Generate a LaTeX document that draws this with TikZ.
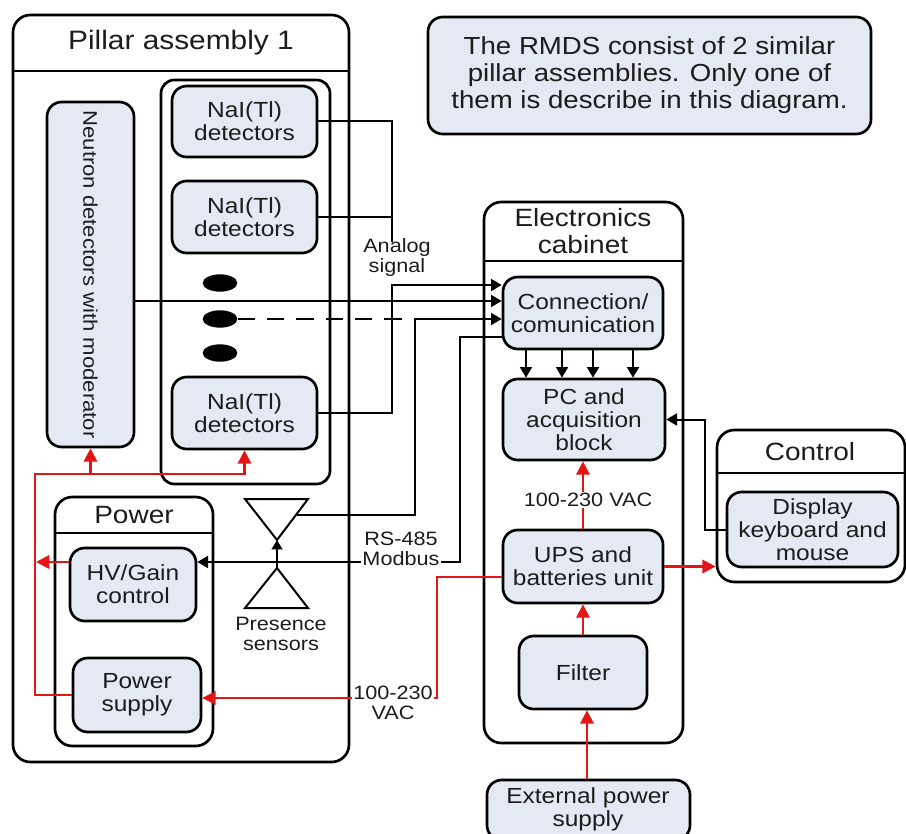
\documentclass[tikz,border=0pt]{standalone}
\usepackage{fontspec}
\setmainfont{Liberation Sans}[FakeStretch=1.12]
\usetikzlibrary{fit,arrows.meta,shapes.geometric}
\definecolor{boxfill}{RGB}{228,233,243}
\definecolor{pwrred}{RGB}{226,22,22}
\definecolor{ink}{RGB}{28,28,28}

\tikzset{
  grp/.style={draw=black, line width=2pt, rounded corners=13pt, inner sep=0pt},
  divider/.style={draw=black, line width=2pt},
  blk/.style={draw=black, line width=2pt, fill=boxfill, rounded corners=11pt, inner sep=0pt},
  blktxt/.style={align=center, text=ink, inner sep=0pt, font=\fontsize{16.4}{17.2}\selectfont},
  hdr/.style={align=center, text=ink, font=\fontsize{18.75}{20}\selectfont},
  lbl/.style={align=center, text=ink, font=\fontsize{14.5}{15}\selectfont},
  whitebg/.style={fill=white, inner sep=1pt},
  bigdot/.style={ellipse, fill=black, draw=none, inner sep=0pt,
    minimum width=26pt, minimum height=13pt},
  wire/.style={draw=black, line width=1.5pt},
  sig/.style={wire, -{Triangle[length=8pt,width=9pt]}},
  pwr/.style={draw=pwrred, line width=1.8pt},
  pwrarrow/.style={pwr, -{Triangle[length=10pt,width=10pt]}},
}

\begin{document}
\begin{tikzpicture}[x=0.75pt,y=-0.75pt]
\useasboundingbox (0,0) rectangle (906,834);

% ---------------- Pillar assembly ----------------
\node[grp, fit={(13,15)(349,762)}] (pillar) {};
\draw[divider] (pillar.west |- 0,71) -- (pillar.east |- 0,71);
\node[hdr, font=\fontsize{20}{20}\selectfont] (pillarT) at (181,43) {Pillar assembly 1};

\node[grp, rounded corners=10pt, fit={(161,80)(330,484)}] (naigrp) {};
\node[blk, fit={(172,86)(317,157)}] (nai1) {};
\node[blktxt] (nai1T) at (nai1.center) {NaI(Tl)\\detectors};
\node[blk, fit={(172,181)(317,253)}] (nai2) {};
\node[blktxt] (nai2T) at (nai2.center) {NaI(Tl)\\detectors};
\node[blk, fit={(172,377)(317,449)}] (nai3) {};
\node[blktxt] (nai3T) at (nai3.center) {NaI(Tl)\\detectors};
\node[bigdot] (dot1) at (220,283) {};
\node[bigdot] (dot2) at (220,319) {};
\node[bigdot] (dot3) at (220,353) {};

\node[blk, fit={(47,102)(134,447)}] (neut) {};
\node[rotate=-90, text=ink, inner sep=0pt, font=\fontsize{14.8}{16}\selectfont] (neutT) at (neut.center)
  {Neutron detectors with moderator};

% power group
\node[grp, fit={(55,497)(213,746)}] (powgrp) {};
\draw[divider] (powgrp.west |- 0,533) -- (powgrp.east |- 0,533);
\node[hdr] (powT) at (134,515) {Power};
\node[blk, fit={(70,548)(196,621)}] (hv) {};
\node[blktxt] (hvT) at (hv.center) {HV/Gain\\control};
\node[blk, fit={(73,658)(201,732)}] (ps) {};
\node[blktxt] (psT) at (ps.center) {Power\\supply};

% presence sensors (bow-tie symbol)
\coordinate (stl) at (245,499);
\coordinate (str) at (308,499);
\coordinate (sta) at (277,540);
\coordinate (sba) at (277,568);
\coordinate (sbl) at (245,608);
\coordinate (sbr) at (308,608);
\coordinate (sout) at (297,515);
\draw[wire, line join=miter] (stl) -- (str) -- (sta) -- cycle;
\draw[wire, line join=miter] (sba) -- (sbr) -- (sbl) -- cycle;
\node[lbl] (presT) at (281,634) {Presence\\sensors};

% ---------------- Electronics cabinet ----------------
\node[grp, fit={(484,202)(683,743)}] (cab) {};
\draw[divider] (cab.west |- 0,261) -- (cab.east |- 0,261);
\node[hdr] (cabT) at (583,231) {Electronics\\cabinet};
\node[blk, fit={(503,277)(663,349)}] (conn) {};
\node[blktxt] (connT) at (conn.center) {Connection/\\comunication};
\node[blk, fit={(503,379)(665,460)}] (pc) {};
\node[blktxt] (pcT) at (pc.center) {PC and\\acquisition\\block};
\node[blk, fit={(503,530)(663,603)}] (ups) {};
\node[blktxt] (upsT) at (ups.center) {UPS and\\batteries unit};
\node[blk, fit={(519,636)(647,709)}] (filter) {};
\node[blktxt] (filterT) at (filter.center) {Filter};
\node[blk, fit={(487,780)(690,840)}] (ext) {};
\node[blktxt] (extT) at (588,809) {External power\\supply};

% ---------------- Control ----------------
\node[grp, fit={(717,430)(905,582)}] (ctrl) {};
\draw[divider] (ctrl.west |- 0,473) -- (ctrl.east |- 0,473);
\node[hdr] (ctrlT) at (810,452) {Control};
\node[blk, fit={(727,492)(898,567)}] (disp) {};
\node[blktxt] (dispT) at (disp.center) {Display\\keyboard and\\mouse};

% ---------------- Note ----------------
\node[blk, fit={(428,17)(871,134)}] (info) {};
\node[blktxt, font=\fontsize{18.5}{20.2}\selectfont] (infoT) at (info.center)
  {The RMDS consist of 2 similar\\pillar assemblies. Only one of\\them is describe in this diagram.};

% ---------------- Signal wiring ----------------
\coordinate (bx) at (392,0);
\draw[wire] (nai1.east) -| (bx |- 0,242);
\draw[wire] (nai2.east) -- (nai2.east -| bx);
\draw[sig] (nai3.east) -| (bx |- 0,285) -- (conn.west |- 0,285);
\draw[sig] (neut.east |- 0,301) -- (conn.west |- 0,301);
\coordinate (sx) at (415,319);
\draw[wire, dash pattern=on 13pt off 9pt] (dot2.east) -- (sx);
\draw[sig] (sx) -- (conn.west |- sx);
\draw[wire] (sout) -| (sx);
\coordinate (rsx) at (460,562);
\draw[sig] (conn.west |- 0,337) -| (rsx) -- (hv.east |- rsx);
\draw[wire, -{Triangle[length=7pt,width=8pt]}] (sba) -- (sta);
\foreach \x in {526,562,593,633}
  \draw[sig] (conn.south -| \x,0) -- (pc.north -| \x,0);
\draw[sig] (disp.west) -| (pc.east -| 705,0) -- (pc.east);

% ---------------- Power wiring ----------------
\draw[pwrarrow] (ext.north -| 587,0) -- (filter.south -| 587,0);
\draw[pwrarrow] (filter.north) -- (ups.south);
\draw[pwrarrow] (ups.north) -- (pc.south -| ups.north);
\draw[pwrarrow] (ups.east) -- (ctrl.west |- ups.east);
\draw[pwrarrow] (ups.west |- 0,577) -| (437,698) -- (ps.east |- 0,698);
\draw[pwrarrow] (ps.west) -| (35,474) -| (nai3.south);
\draw[pwrarrow] (neut.south |- 0,474) -- (neut.south);
\draw[pwrarrow] (hv.west |- 0,562) -- (36,562);

% ---------------- Labels on the lines ----------------
\node[lbl] (analogT) at (397,258) {Analog\\signal};
\node[lbl, whitebg] (rsT) at (401,549) {RS-485\\Modbus};
\node[lbl, whitebg] (vacT) at (393,703) {100-230\\VAC};
\node[lbl, whitebg] (upsvT) at (588,500) {100-230 VAC};
\end{tikzpicture}
\end{document}
